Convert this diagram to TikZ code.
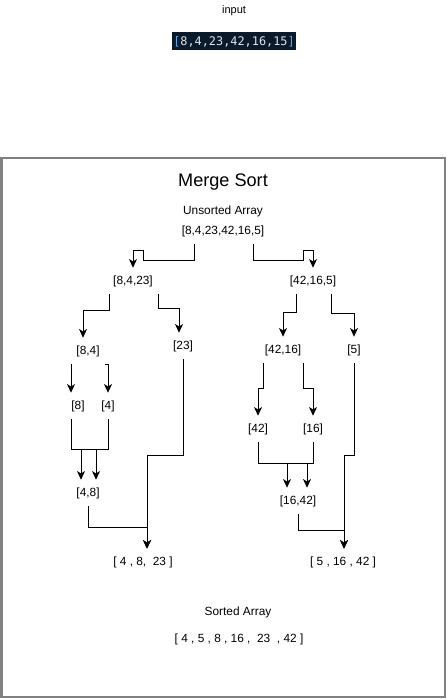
\documentclass[tikz,border=0pt]{standalone}
\usepackage{fontspec}
\setmainfont{Liberation Sans}
\setmonofont{DejaVu Sans Mono}
\usetikzlibrary{arrows.meta}
\definecolor{MsNavy}{HTML}{0B1A2B}
\definecolor{MsBracket}{HTML}{5FA8E6}
\definecolor{MsDigit}{HTML}{DCE3EA}
\definecolor{MsFrame}{HTML}{808080}

\begin{document}
\begin{tikzpicture}[x=0.75pt,y=-0.75pt,every node/.style={font=\fontsize{8.9}{10}\selectfont,align=center,inner sep=0pt},
    arr/.style={-{Stealth[length=6.5pt,width=6pt,inset=1.8pt]},line width=0.75pt},
    lbl/.style={minimum height=19.5pt}]
    \useasboundingbox (0,0) rectangle (446,699);
    % input on top
    \node[font=\fontsize{8.25}{10}\selectfont] (inputtxt) at (234,11) {input};
    \node[fill=MsNavy,minimum width=93pt,minimum height=13.5pt,font=\fontsize{8.9}{10}\ttfamily,text=MsDigit] (inputarr) at (234,41.5) {\textcolor{MsBracket}{[}8,4,23,42,16,15\textcolor{MsBracket}{]}};
    % frame
    \draw[MsFrame,line width=1.5pt] (1.5,157.5) rectangle (444.5,697);
    \node[font=\fontsize{13.6}{16}\selectfont] (title) at (223,182) {Merge Sort};
    \node (unsorted) at (223,211) {Unsorted Array};
    \node[lbl] (root) at (223,231) {[8,4,23,42,16,5]};
    % split
    \node[lbl] (l) at (133,281) {[8,4,23]};
    \node[lbl] (r) at (313,281) {[42,16,5]};
    \node[lbl] (ll) at (88,351) {[8,4]};
    \node[lbl] (lr) at (183,346) {[23]};
    \node[lbl] (rl) at (283,350) {[42,16]};
    \node[lbl] (rr) at (354,350) {[5]};
    \node[lbl] (lll) at (78,406) {[8]};
    \node[lbl] (llr) at (108,406) {[4]};
    \node[lbl] (rll) at (258,429) {[42]};
    \node[lbl] (rlr) at (313,429) {[16]};
    % merge
    \node[lbl] (mll) at (88,493) {[4,8]};
    \node[lbl] (mrl) at (298,501) {[16,42]};
    \node[lbl] (ml) at (143,562) {[ 4 , 8,\ \ 23 ]};
    \node[lbl] (mr) at (343,562) {[ 5 , 16 , 42 ]};
    \node (sorted) at (238,612) {Sorted Array};
    \node (result) at (239,639) {[ 4 , 5 , 8 , 16 ,\ \ 23\ \ , 42 ]};
    % connectors
    \draw[arr] (194,0 |- root.south) |- (143,260) -- (143,250) -| (l.north);
    \draw[arr] (253,0 |- root.south) |- (303,260) -- (303,250) -| (r.north);
    \draw[arr] (109,0 |- l.south) -- (109,310) -| (ll.north -| 83,0);
    \draw[arr] (158,0 |- l.south) -- (158,308) -| (lr.north -| 179,0);
    \draw[arr] (296,0 |- r.south) -- (296,312) -| (rl.north);
    \draw[arr] (331,0 |- r.south) -- (331,313) -| (rr.north);
    \draw[arr] (71,0 |- ll.south) -- (lll.north -| 71,0);
    \draw[arr] (105,0 |- ll.south) -| (llr.north);
    \draw[arr] (263,0 |- rl.south) -- (263,388) -| (rll.north);
    \draw[arr] (303,0 |- rl.south) -- (303,388) -| (rlr.north);
    \draw[arr] (lll.south -| 71,0) |- (96,449) -- (mll.north -| 96,0);
    \draw[arr] (llr.south) |- (81,449) -- (mll.north -| 81,0);
    \draw[arr] (rll.south) |- (307,463) -- (mrl.north -| 307,0);
    \draw[arr] (rlr.south) |- (287,463) -- (mrl.north -| 287,0);
    \draw[arr] (lr.south) |- (147,455) -- (ml.north -| 147,0);
    \draw[arr] (mll.south) |- (147,527) -- (ml.north -| 147,0);
    \draw[arr] (rr.south) |- (344,455) -- (mr.north -| 344,0);
    \draw[arr] (mrl.south) |- (344,530) -- (mr.north -| 344,0);
\end{tikzpicture}
\end{document}
